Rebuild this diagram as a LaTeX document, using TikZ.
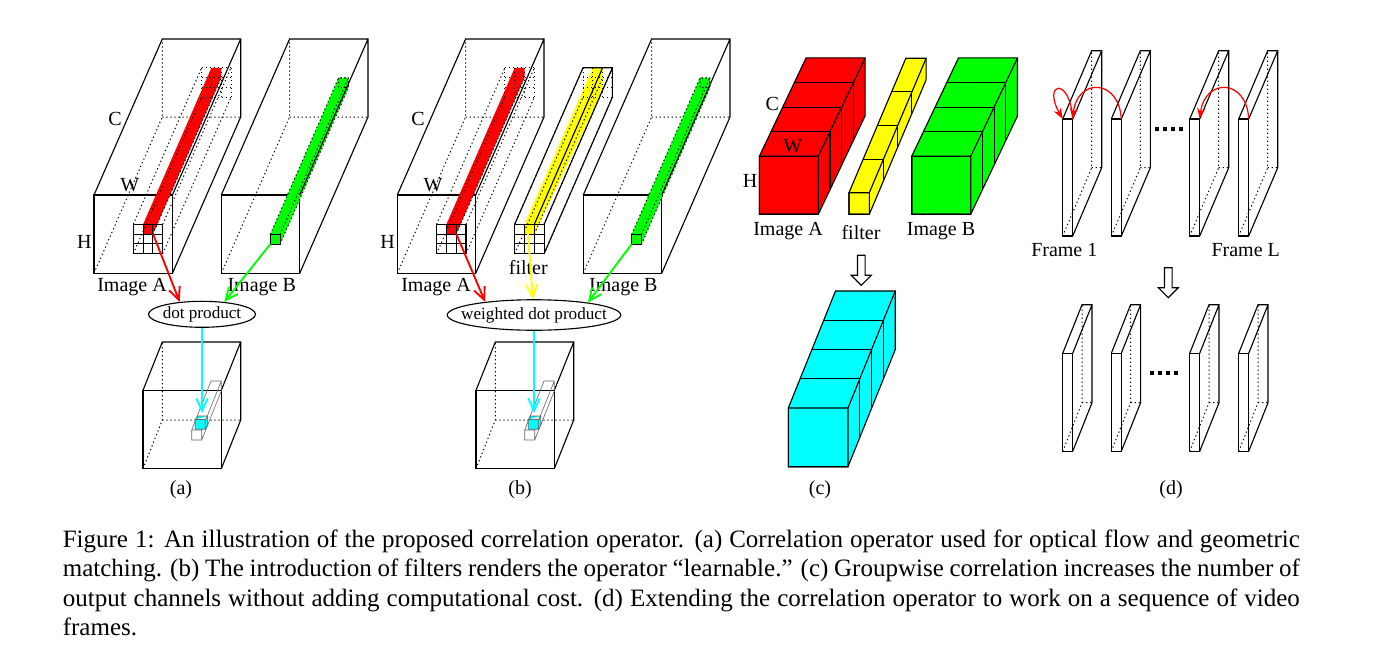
\documentclass[tikz,border=0pt]{standalone}
\usepackage{fontspec}
\setmainfont{Liberation Serif}
\usetikzlibrary{arrows.meta,shapes.geometric}
\definecolor{purecyan}{RGB}{0,255,255}
\definecolor{pureyellow}{RGB}{255,255,0}
\tikzset{
  edge/.style={line width=.45pt},
  hidden/.style={line width=.4pt, dash pattern=on .5pt off 1.1pt},
  faint/.style={line width=.25pt, black!60},
  barb/.style={-{Straight Barb[length=5pt,width=4.6pt]}, line width=.75pt},
  curl/.style={-{Stealth[length=4.4pt,width=3.2pt]}, red, line width=.5pt},
  product/.style={draw, ellipse, edge, inner sep=0pt, font=\fontsize{6.85}{8}\selectfont},
  lbl/.style={inner sep=0pt, font=\footnotesize}
}
\begin{document}
\begin{tikzpicture}[x=.4pt, y=-.4pt]
    \useasboundingbox (0,0) rectangle (1384,653);
    % input volumes
    \foreach \x in {94,221.3,397.3,583.3} {
        \draw[hidden] (\x,273.3) -- (\x+68.3,117) -- (\x+68.3,39) (\x+68.3,117) -- (\x+146.7,117);
        \draw[edge] (\x,195) rectangle (\x+78.4,273.3);
      }
    % stripes with their filter grids
    \foreach \gx/\col/\dp in {133.3/red/77.6,436.6/red/77.6,514.7/pureyellow/90} {
        \fill[\col] (\gx+9.8,224.3) -- (\gx+78.1,67.8) -- (\gx+87.9,67.8) -- (\gx+87.9,\dp)
          -- (\gx+19.6,234.1) -- (\gx+9.8,234.1) -- cycle;
        \foreach \k in {0,1,2,3} {
            \draw[edge] (\gx+\k*9.8,224.3) -- ++(0,29.4);
            \draw[edge] (\gx,224.3+\k*9.8) -- ++(29.4,0);
            \draw[hidden] (\gx+68.3+\k*9.8,67.8) -- ++(0,29.4);
            \draw[hidden] (\gx+68.3,67.8+\k*9.8) -- ++(29.4,0);
          }
        \draw[hidden] (\gx,224.3) -- ++(68.3,-156.5) (\gx+29.4,224.3) -- ++(68.3,-156.5)
          (\gx,253.7) -- ++(68.3,-156.5) (\gx+29.4,253.7) -- ++(68.3,-156.5)
          (\gx+19.6,234.1) -- ++(68.3,-156.5);
      }
    \foreach \cx in {270.3,631.7} {
        \draw[hidden, fill=green] (\cx,234.3) -- (\cx+68.3,77.8) -- (\cx+78.1,77.8) -- (\cx+78.1,87.6)
          -- (\cx+9.8,244.1) -- (\cx,244.1) -- cycle;
        \draw[edge, fill=green] (\cx,234.3) rectangle (\cx+9.8,244.1);
        \draw[hidden] (\cx+68.3,77.8) rectangle (\cx+78.1,87.6) (\cx+9.8,234.3) -- ++(68.3,-156.5);
      }
    \foreach \x in {94,221.3,397.3,583.3} {
        \draw[edge] (\x,195) -- (\x+68.3,39) -- (\x+146.7,39) -- (\x+146.7,117) -- (\x+78.4,273.3)
          (\x+78.4,195) -- (\x+146.7,39);
      }
    \draw[edge] (514.7,224.3) -- (583,67.8) -- (612.4,67.8) -- (612.4,97.2) -- (544.1,253.7)
      (544.1,224.3) -- (612.4,67.8) (534.3,224.3) -- (602.6,67.8);
    % output volumes
    \foreach \x in {143,476} {
        \draw[hidden] (\x,468.7) -- (\x+19.3,420) -- (\x+19.3,342) (\x+19.3,420) -- (\x+97.7,420);
        \draw[edge] (\x,390.3) rectangle (\x+78.3,468.7);
        \draw[edge] (\x,390.3) -- (\x+19.3,342) -- (\x+97.7,342) -- (\x+97.7,420) -- (\x+78.3,468.7)
          (\x+78.3,390.3) -- (\x+97.7,342);
        \draw[faint] (\x+48.7,430) rectangle (\x+58.7,440) (\x+48.7,430) -- (\x+68,381) -- (\x+78.3,381)
          -- (\x+78.3,391) -- (\x+58.7,440) (\x+58.7,430) -- (\x+78.3,381);
        \draw[faint, fill=purecyan] (\x+52.3,419.5) -- (\x+55,416) -- (\x+64.7,416) -- (\x+64.7,425.5)
          -- (\x+62.3,429.3) -- (\x+52.3,429.3) -- cycle
          (\x+52.3,419.5) -- (\x+62.3,419.5) -- (\x+64.7,416) (\x+62.3,419.5) -- (\x+62.3,429.3);
      }
    % groupwise blocks
    \foreach \x/\y/\w/\h/\sx/\sy/\col in {
      759.3/156.3/59/58/11.7/24.6/red,
      911.7/156.3/59/58/11.7/24.6/green,
      849/192.7/20.3/21.6/14.2/33.6/pureyellow,
      788.3/408/59.7/58.7/11.8/29.25/purecyan}
      {
        \draw[edge, fill=\col] (\x,\y) -- (\x+4*\sx,\y-4*\sy) -- (\x+\w+4*\sx,\y-4*\sy)
          -- (\x+\w+4*\sx,\y-4*\sy+\h) -- (\x+\w,\y+\h) -- (\x,\y+\h) -- cycle;
        \draw[edge] (\x,\y) rectangle (\x+\w,\y+\h) (\x+\w,\y) -- (\x+\w+4*\sx,\y-4*\sy);
        \foreach \k in {1,2,3} {
            \draw[edge] (\x+\k*\sx,\y-\k*\sy) -- ++(\w,0) -- ++(0,\h);
          }
      }
    % video frames
    \foreach \y/\h/\ox/\oy in {119/117/29/68.3,353.3/98/19.3/48.6} {
        \foreach \x in {1062.7,1111.3,1189.7,1238.7} {
            \draw[hidden] (\x,\y+\h) -- (\x+\ox,\y+\h-\oy) -- (\x+\ox,\y-\oy) (\x+\ox,\y+\h-\oy) -- ++(10,0);
            \draw[edge] (\x,\y) rectangle (\x+10,\y+\h);
            \draw[edge] (\x,\y) -- (\x+\ox,\y-\oy) -- (\x+\ox+10,\y-\oy) -- (\x+\ox+10,\y+\h-\oy)
              -- (\x+10,\y+\h) (\x+10,\y) -- (\x+\ox+10,\y-\oy);
          }
      }
    \draw[line width=1.5pt, dash pattern=on 1.5pt off 1.7pt] (1155,128.7) -- (1185,128.7);
    \draw[line width=1.5pt, dash pattern=on 1.5pt off 1.7pt] (1150,372.7) -- (1180,372.7);
    % hollow arrows
    \foreach \x/\y in {861.3/255.3,1168.3/267.7} {
        \draw[edge, fill=white] (\x-3.8,\y) -- (\x+3.8,\y) -- (\x+3.8,\y+20) -- (\x+10,\y+20)
          -- (\x,\y+30) -- (\x-10,\y+20) -- (\x-3.8,\y+20) -- cycle;
      }
    % labels
    \foreach \nm/\px/\py/\et in {
      chanA/115/119/C, widthA/129.7/185/W, heightA/84.3/241.7/H,
      imgAa/132/287/Image A, imgBa/261.7/287/Image B,
      chanB/418/119/C, widthB/433/185/W, heightB/387.6/241.7/H,
      imgAb/436/287/Image A, imgBb/623.3/287/Image B, filterb/528.3/268/filter,
      chanC/772.3/104/C, widthC/792.7/146/W, heightC/750/180.7/H,
      imgAc/788/231/Image A, imgBc/941/231/Image B, filterc/861/232.7/filter,
      frameone/1064.3/250/Frame 1, framelast/1245.7/250.5/Frame L,
      capa/181/490/(a), capb/520/490/(b), capc/820/490/(c), capd/1171/490/(d)}
      {
        \node[lbl] (\nm) at (\px,\py) {\et};
      }
    \node[product, minimum width=42.8pt, minimum height=10.4pt] (dotprod) at (202,314.3) {\makebox[0pt]{\smash{\raisebox{-1.7pt}{dot product}}}};
    \node[product, minimum width=69.4pt, minimum height=12.2pt] (wdotprod) at (534,315) {\makebox[0pt]{\smash{\raisebox{-1.7pt}{weighted dot product}}}};
    % connectors
    \coordinate (cellAa) at (153.1,234.1);
    \coordinate (cellBa) at (270.3,244.1);
    \coordinate (cellAb) at (456.4,234.1);
    \coordinate (cellFb) at (528,234.1);
    \coordinate (cellBb) at (631.7,244.1);
    \coordinate (resa) at (202,413);
    \coordinate (resb) at (534,413);
    \draw[barb, red] (cellAa) -- (dotprod.151);
    \draw[barb, green] (cellBa) -- (dotprod.29);
    \draw[barb, purecyan] (dotprod.south) -- (resa);
    \draw[barb, red] (cellAb) -- (wdotprod.165);
    \draw[barb, pureyellow] (cellFb) -- (wdotprod.94);
    \draw[barb, green] (cellBb) -- (wdotprod.13);
    \draw[barb, purecyan] (wdotprod.south) -- (resb);
    % frame correlation arcs
    \coordinate (frameA) at (1062.7,119);
    \coordinate (frameAr) at (1072.7,119);
    \coordinate (frameB) at (1121.3,119);
    \coordinate (frameC) at (1199.7,119);
    \coordinate (frameD) at (1248.7,119);
    \draw[curl] (frameAr) .. controls (1070,76) and (1042,82) .. (frameA);
    \draw[curl] (frameB) .. controls (1119,78) and (1077,78) .. (frameAr);
    \draw[curl] (frameD) .. controls (1246.6,78) and (1205,78) .. (frameC);
    % caption
    \node[anchor=north west, inner sep=0pt, text width=494.8pt, align=justify, font=\fontsize{10}{11.8}\selectfont] (caption) at (62.3,529)
      {Figure 1: An illustration of the proposed correlation operator. (a) Correlation operator used for optical flow and geometric matching. (b) The introduction of filters renders the operator ``learnable.'' (c) Groupwise correlation increases the number of output channels without adding computational cost. (d) Extending the correlation operator to work on a sequence of video frames.};
  \end{tikzpicture}
\end{document}
